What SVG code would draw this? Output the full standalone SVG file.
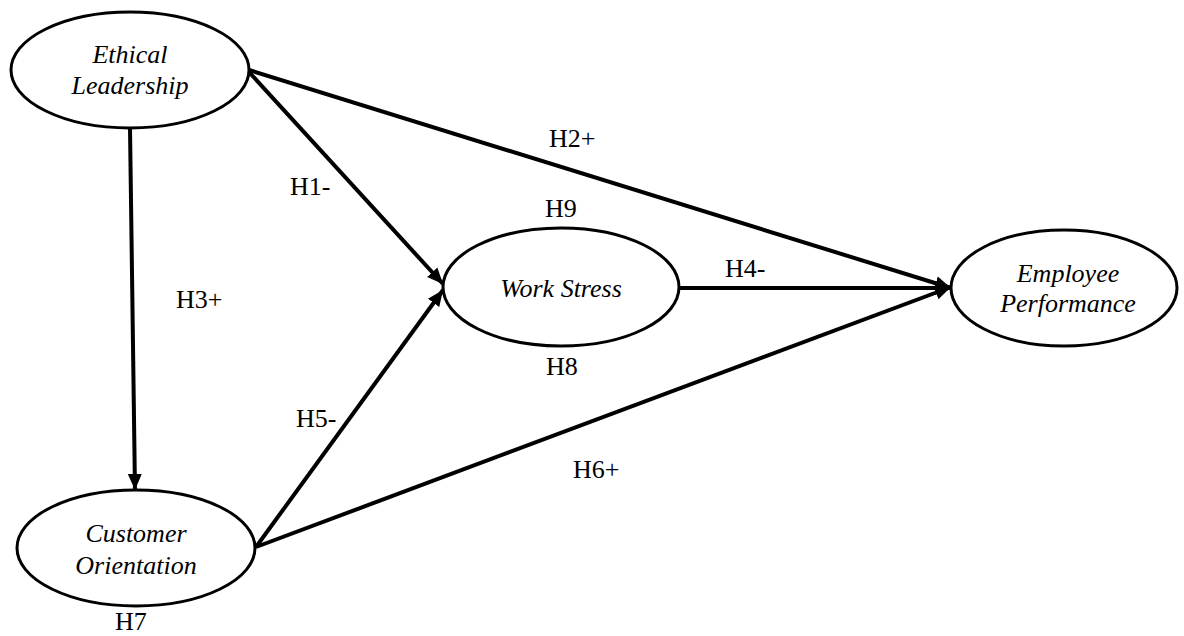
<svg xmlns="http://www.w3.org/2000/svg" width="1184" height="636" viewBox="0 0 1184 636">
<style>
.node{fill:#fff;stroke:#000;stroke-width:3}
.nt{font-family:'Liberation Serif','DejaVu Serif','Times New Roman',Tinos,'Nimbus Roman','Noto Serif',FreeSerif,Times,serif;font-style:italic;font-size:26px;fill:#000;text-anchor:middle}
.lb{font-family:'Liberation Serif','DejaVu Serif','Times New Roman',Tinos,'Nimbus Roman','Noto Serif',FreeSerif,Times,serif;font-size:26px;fill:#000}
.edge{stroke:#000;stroke-width:4;fill:none;marker-end:url(#ah)}
</style>
<defs>
<marker id="ah" markerUnits="userSpaceOnUse" markerWidth="18" markerHeight="16" refX="16" refY="8" orient="auto">
<path d="M0,1 L16,8 L0,15 Z" fill="#000"/>
</marker>
</defs>
<rect width="1184" height="636" fill="#fff"/>
<g id="connectors">
<line class="edge" x1="130" y1="128" x2="135" y2="490"/>
<line class="edge" x1="249" y1="72" x2="443" y2="284"/>
<line class="edge" x1="249" y1="70" x2="951" y2="288"/>
<line class="edge" x1="256" y1="547" x2="443" y2="290"/>
<line class="edge" x1="256" y1="547" x2="951" y2="287"/>
<line class="edge" x1="680" y1="288" x2="951" y2="288"/>
</g>
<g id="ethical-leadership">
<ellipse class="node" cx="130" cy="70" rx="119" ry="58"/>
<text class="nt" x="130" y="63">Ethical</text>
<text class="nt" x="130" y="94">Leadership</text>
</g>
<g id="work-stress">
<ellipse class="node" cx="561" cy="287" rx="118" ry="59"/>
<text class="nt" x="561" y="297">Work Stress</text>
</g>
<g id="employee-performance">
<ellipse class="node" cx="1064" cy="288" rx="113" ry="58"/>
<text class="nt" x="1068" y="282">Employee</text>
<text class="nt" x="1068" y="312">Performance</text>
</g>
<g id="customer-orientation">
<ellipse class="node" cx="136" cy="548" rx="119" ry="58"/>
<text class="nt" x="136" y="542">Customer</text>
<text class="nt" x="136" y="574">Orientation</text>
</g>
<g id="labels">
<text class="lb" x="549" y="147">H2+</text>
<text class="lb" x="290" y="195">H1-</text>
<text class="lb" x="545" y="217">H9</text>
<text class="lb" x="725" y="277">H4-</text>
<text class="lb" x="176" y="308">H3+</text>
<text class="lb" x="546" y="375">H8</text>
<text class="lb" x="296" y="427">H5-</text>
<text class="lb" x="573" y="478">H6+</text>
<text class="lb" x="115" y="630">H7</text>
</g>
</svg>
